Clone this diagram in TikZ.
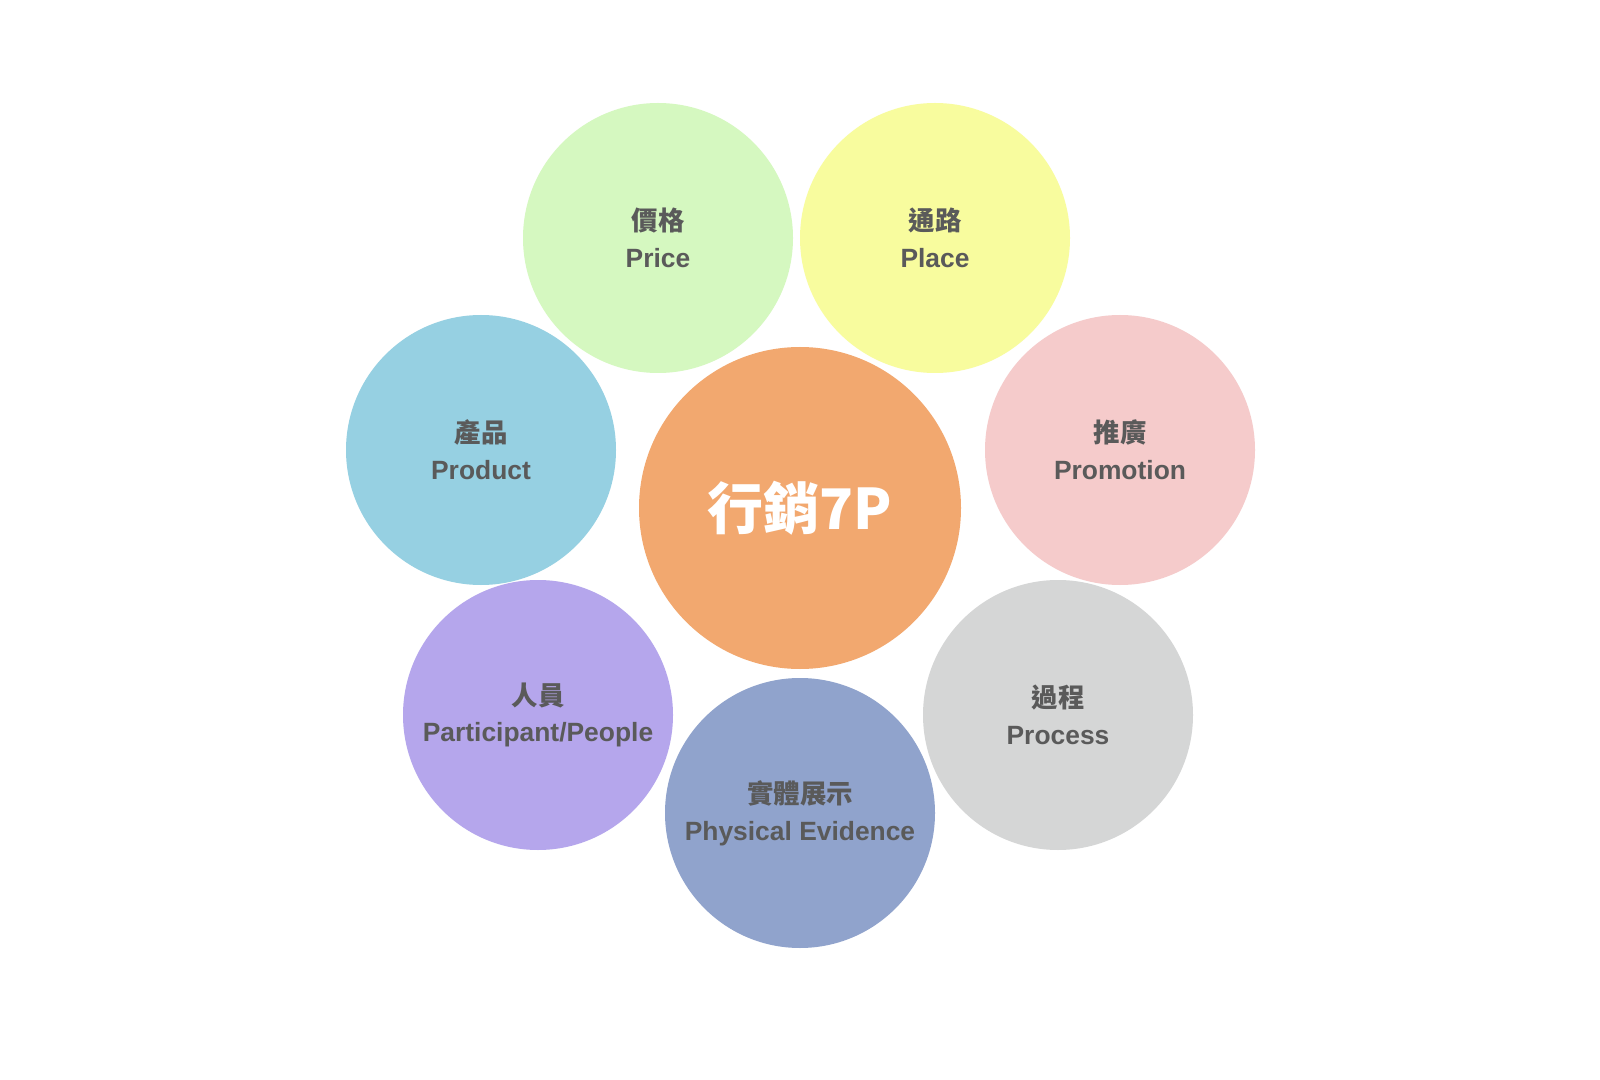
\documentclass[tikz,border=0pt]{standalone}
\usepackage{fontspec}
\setmainfont{Liberation Sans}
\newfontfamily\cjk{Noto Sans CJK TC}
\definecolor{txt}{HTML}{5A5A5A}
\definecolor{cPrice}{HTML}{D5F8C0}
\definecolor{cPlace}{HTML}{F8FC9E}
\definecolor{cProduct}{HTML}{96D0E2}
\definecolor{cPromo}{HTML}{F5CBCB}
\definecolor{cPeople}{HTML}{B5A6EC}
\definecolor{cProcess}{HTML}{D5D6D6}
\definecolor{cEvid}{HTML}{90A3CC}
\definecolor{cCenter}{HTML}{F2A86F}
\tikzset{
  pbubble/.style={circle, fill=#1, minimum size=202.5pt, inner sep=0pt, align=center,
    text=txt, font=\fontsize{19.8pt}{27.5pt}\selectfont\bfseries},
  hub/.style={circle, fill=cCenter, minimum size=241.5pt, inner sep=0pt, text=white,
    font=\cjk\fontsize{42pt}{48pt}\selectfont\bfseries}
}
\newcommand{\twol}[2]{{\cjk #1}\\#2}
\begin{document}
\begin{tikzpicture}[x=0.75pt,y=-0.75pt]
\useasboundingbox (0,0) rectangle (1600,1080);
\fill[white] (0,0) rectangle (1600,1080);
\node[hub] (center) at (800,508) {行銷7P};
\node[pbubble=cPrice] (price) at (658,238) {\twol{價格}{Price}};
\node[pbubble=cPlace] (place) at (935,238) {\twol{通路}{Place}};
\node[pbubble=cProduct] (product) at (481,450) {\twol{產品}{Product}};
\node[pbubble=cPromo] (promotion) at (1120,450) {\twol{推廣}{Promotion}};
\node[pbubble=cPeople] (people) at (538,715) {\twol{人員}{Participant/People}};
\node[pbubble=cProcess] (process) at (1058,715) {\twol{過程}{Process}};
\node[pbubble=cEvid] (evidence) at (800,813) {\twol{實體展示}{Physical Evidence}};
\end{tikzpicture}
\end{document}
